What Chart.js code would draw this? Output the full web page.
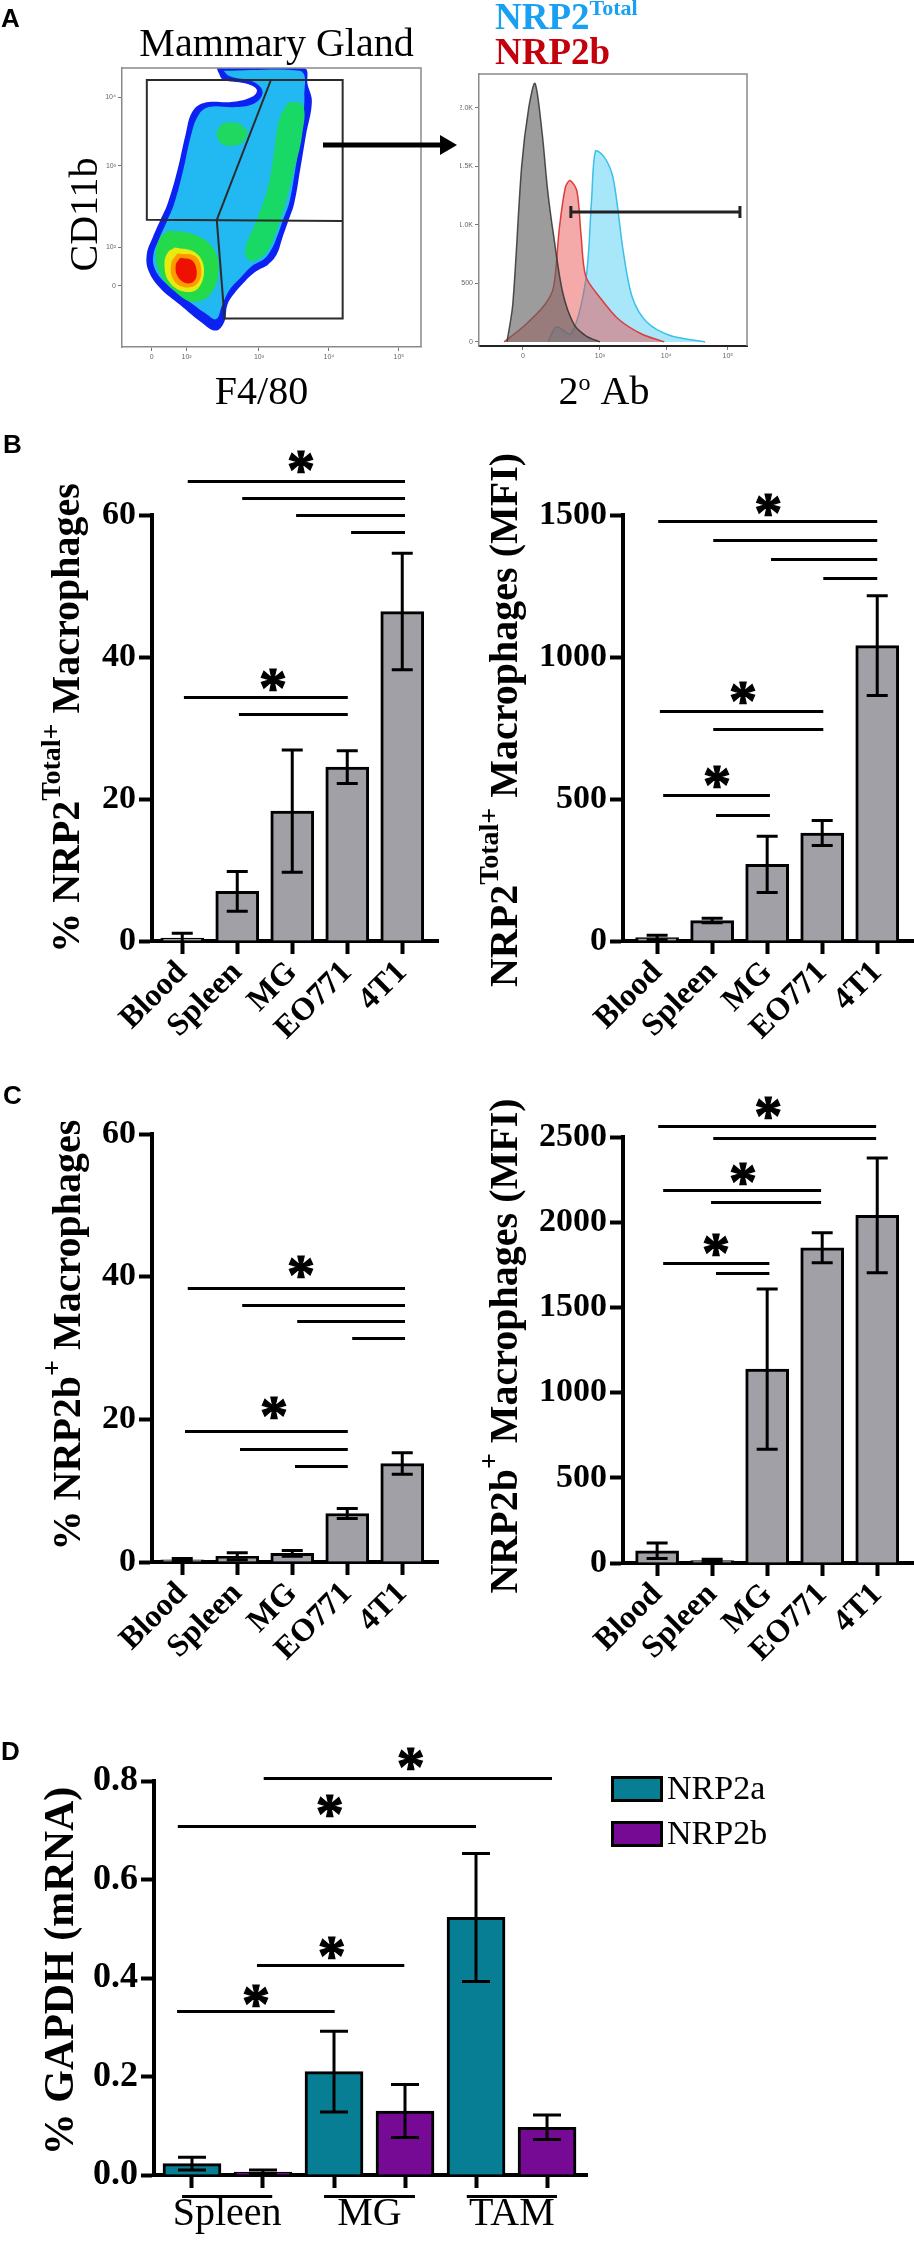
<!DOCTYPE html>
<html>
<head>
<meta charset="utf-8">
<title>NRP2 in macrophages</title>
<script src="https://cdn.jsdelivr.net/npm/chart.js@4.4.1/dist/chart.umd.min.js"></script>
<style>
  html, body { margin: 0; padding: 0; background: #fff; }
  #page { position: relative; width: 914px; height: 2241px; overflow: hidden; background: #fff; }
  #page canvas { position: absolute; }
  .tag { position: absolute; font: bold 26px "Liberation Sans", Arial, sans-serif; line-height: 26px; }
</style>
</head>
<body>
<div id="page">
  <canvas id="dens" width="460" height="420" style="left:0;top:0"></canvas>
  <canvas id="hist" width="454" height="420" style="left:460px;top:0"></canvas>
  <canvas id="pctTotal" width="455" height="665" style="left:0;top:420px"></canvas>
  <canvas id="mfiTotal" width="459" height="665" style="left:455px;top:420px"></canvas>
  <canvas id="pctB" width="455" height="600" style="left:0;top:1085px"></canvas>
  <canvas id="mfiB" width="459" height="600" style="left:455px;top:1085px"></canvas>
  <canvas id="qpcr" width="914" height="541" style="left:0;top:1700px"></canvas>
  <div class="tag" style="left:1px;top:5px">A</div>
  <div class="tag" style="left:3px;top:431px">B</div>
  <div class="tag" style="left:3px;top:1082px">C</div>
  <div class="tag" style="left:1px;top:1738px">D</div>
</div>
<script>
// ---------- data ----------
const tissues = ['Blood', 'Spleen', 'MG', 'EO771', '4T1'];
const tissuePos = [0, 1, 2, 3, 4];

// B: NRP2 total
const pctTotal = [0.4, 7.0, 18.3, 24.5, 46.4];
const pctTotalErr = [0.7, 2.8, 8.6, 2.3, 8.2];
const mfiTotal = [12, 72, 270, 380, 1040];
const mfiTotalErr = [8, 8, 99, 44, 176];

// C: NRP2b
const pctB = [0.3, 0.8, 1.2, 6.8, 13.8];
const pctBErr = [0.2, 0.5, 0.4, 0.7, 1.5];
const mfiB = [72, 14, 1138, 1850, 2040];
const mfiBErr = [45, 8, 470, 88, 337];

// D: qPCR
const groups = ['Spleen', 'MG', 'TAM'];
const nrp2a = [0.023, 0.21, 0.523];
const nrp2aErr = [0.013, 0.082, 0.13];
const nrp2b = [0.006, 0.13, 0.097];
const nrp2bErr = [0.004, 0.054, 0.025];
const nrp2aPos = [0, 2, 4];
const nrp2bPos = [1, 3, 5];
const groupSpans = [[-0.14, 1.13], [1.86, 3.14], [3.87, 5.14]];

// significance brackets [from, to, level] and stars [x, level]
const sigPctTotal = [[0.10, 4.05, 64.8], [1.09, 4.05, 62.4], [2.07, 4.05, 60.0], [3.07, 4.05, 57.6], [0.03, 3.01, 34.4], [1.03, 3.01, 32.0]];
const starsPctTotal = [[2.16, 67.5], [1.65, 36.8]];
const sigMfiTotal = [[0.02, 4.0, 1479], [1.02, 4.0, 1412], [2.07, 4.0, 1345], [3.02, 4.0, 1278], [0.05, 3.02, 810], [1.02, 3.02, 746], [0.11, 2.05, 514], [1.07, 2.05, 444]];
const starsMfiTotal = [[2.02, 1535], [1.56, 873], [1.09, 577]];
const sigPctB = [[0.10, 4.05, 38.4], [1.09, 4.05, 36.0], [2.09, 4.05, 33.8], [3.09, 4.05, 31.4], [0.05, 3.01, 18.4], [1.05, 3.01, 15.8], [2.05, 3.01, 13.5]];
const starsPctB = [[2.16, 41.4], [1.67, 21.6]];
const sigMfiB = [[0.02, 3.98, 2565], [1.02, 3.98, 2494], [0.11, 2.98, 2189], [0.98, 2.98, 2119], [0.11, 2.04, 1761], [1.07, 2.04, 1702]];
const starsMfiB = [[2.02, 2670], [1.56, 2283], [1.07, 1866]];
const sigQpcr = [[1.01, 5.07, 0.807], [-0.2, 4.0, 0.709], [0.915, 2.99, 0.426], [-0.21, 2.01, 0.333]];
const starsQpcr = [[3.08, 0.845], [1.94, 0.749], [1.97, 0.461], [0.90, 0.364]];

// A: density plot contours (F4/80, CD11b in display units 0-100)
const blueOuter = [[31.7, 100], [60.9, 100], [62.1, 94.0], [63.5, 87.9], [61.5, 75.8], [59.6, 63.6], [57.6, 51.5], [55.7, 45.4], [53.7, 39.3], [51.8, 33.3], [48.9, 29.6], [45.0, 27.2], [41.1, 23.5], [37.2, 18.7], [35.2, 15.0], [34.2, 9.0], [31.3, 5.9], [26.4, 9.0], [19.6, 15.0], [12.8, 21.1], [8.9, 27.2], [8.3, 33.3], [10.3, 39.3], [12.8, 45.4], [15.3, 51.5], [18.6, 63.6], [21.2, 75.8], [23.5, 84.3], [27.4, 87.5], [37.2, 87.9], [44.0, 90.0], [45.0, 92.4], [41.1, 94.5], [33.9, 95.8], [32.3, 98.3], [31.7, 100]];
const cyanInner = [[34, 99], [59.5, 99], [61, 90], [59.8, 76], [58, 64], [56, 52], [54, 46], [52, 40], [50, 35], [47.5, 31.5], [43.5, 29], [39.8, 25], [36, 20.5], [33.5, 15], [31.5, 10], [28, 12], [21, 17.5], [14.5, 23], [11, 28], [10.5, 33], [12.5, 39], [15, 45], [17.5, 51.5], [20.5, 63.5], [23, 75.5], [25.5, 83], [29, 86], [38, 86], [44.5, 87.5], [47, 91.5], [44, 95], [36, 97], [34, 99]];
const greenBand = [[55.7, 87.9], [60.5, 86.7], [60.2, 75.8], [57.6, 63.6], [54.7, 51.5], [51.8, 41.8], [47.9, 33.3], [43.0, 30.8], [41.1, 34.5], [45.0, 45.4], [48.9, 57.6], [50.8, 69.7], [52.7, 81.9], [55.7, 87.9]];
const greenUpper = [[31.5, 76.4], [33, 79.5], [36.2, 80.6], [40, 79.5], [42, 76.4], [40, 73], [36.2, 72.1], [33, 73], [31.5, 76.4]];
const greenLower = [[15.7, 41.8], [23.5, 40.5], [30.3, 35.7], [32.3, 27.2], [29.4, 18.7], [23.5, 16.2], [17.7, 19.9], [12.8, 26.0], [11.4, 33.3], [12.8, 39.3], [15.7, 41.8]];
const yellowCore = [[17.7, 35.7], [24.5, 33.9], [27.4, 28.4], [25.5, 21.1], [20.6, 19.9], [15.7, 23.5], [14.2, 29.6], [15.3, 33.9], [17.7, 35.7]];
const orangeCore = [[18.5, 33.5], [24.5, 32.5], [26.5, 27.5], [25, 22.5], [20.5, 21.5], [17, 24.5], [16.5, 30], [18.5, 33.5]];
const redCore = [[19.5, 32], [23.5, 31], [25, 27], [24, 23.5], [21, 23], [18.5, 25.5], [18, 29.5], [19.5, 32]];
const gateUpper = [[49.8, 95.7], [8.3, 95.7], [8.3, 45.6], [73.8, 45.2]];
const gateLower = [[49.8, 95.7], [73.8, 95.7], [73.8, 10.2], [34.3, 10.2], [31.7, 45.6], [49.8, 95.7]];
const densXTicks = [9.9, 21.6, 45.8, 69.2, 92.6];
const densXLabels = ['0', '10²', '10³', '10⁴', '10⁵'];
const densYTicks = [21.9, 35.8, 64.9, 89.6];
const densYLabels = ['0', '10²', '10³', '10⁴'];

// A: histogram [channel, count]
const histGrey = [[107, 0], [129, 320], [163, 1500], [190, 2000], [214, 2210], [241, 1790], [262, 1300], [285, 910], [320, 420], [363, 150], [410, 50], [462, 0]];
const histRed = [[96, 0], [174, 140], [252, 320], [285, 470], [307, 970], [330, 1320], [348, 1380], [374, 1290], [390, 910], [408, 560], [462, 380], [530, 200], [619, 70], [708, 0]];
const histBlue = [[264, 0], [296, 130], [352, 70], [408, 530], [430, 1210], [445, 1630], [475, 1590], [508, 1440], [526, 1210], [552, 760], [586, 380], [641, 170], [730, 55], [864, 0]];
const histGate = [351, 997, 1111];
const histXTicks = [168, 462, 715, 951];
const histXLabels = ['0', '10³', '10⁴', '10⁵'];
const histYTicks = [0, 500, 1000, 1500, 2000];
const histYLabels = ['0', '500', '1.0K', '1.5K', '2.0K'];

// ---------- helpers ----------
const SERIF = '"Liberation Serif", "Times New Roman", serif';
Chart.defaults.font.family = SERIF;
Chart.defaults.color = '#000';

// parts: [text, size, raise, bold, color]
function drawParts(ctx, parts, x, y, rotate, align) {
    const fonts = parts.map(p => (p[3] ? 'bold ' : '') + p[1] + 'px ' + SERIF);
    let total = 0;
    const widths = parts.map((p, i) => {
        ctx.font = fonts[i];
        const w = ctx.measureText(p[0]).width;
        total += w;
        return w;
    });
    ctx.save();
    ctx.translate(x, y);
    if (rotate) ctx.rotate(rotate);
    ctx.textAlign = 'left';
    ctx.textBaseline = 'alphabetic';
    let cx = align === 'left' ? 0 : -total / 2;
    parts.forEach((p, i) => {
        ctx.font = fonts[i];
        ctx.fillStyle = p[4] || '#000';
        ctx.fillText(p[0], cx, -p[2]);
        cx += widths[i];
    });
    ctx.restore();
}

const pts = arr => arr.map(([x, y]) => ({ x, y }));

// error bars, brackets, stars, titles, legend for bar panels
const deco = {
    id: 'deco',
    afterDatasetsDraw(chart, args, o) {
        const ctx = chart.ctx;
        const x = chart.scales.x, y = chart.scales.y;
        const area = chart.chartArea;
        ctx.save();
        ctx.strokeStyle = '#000';
        ctx.fillStyle = '#000';
        ctx.lineWidth = 3;

        (o.errors || []).forEach((errs, di) => {
            const meta = chart.getDatasetMeta(di);
            const ds = chart.data.datasets[di];
            errs.forEach((e, i) => {
                const px = meta.data[i].x;
                const v = ds.data[i].y;
                const top = y.getPixelForValue(v + e);
                const bot = Math.min(y.getPixelForValue(v - e), area.bottom);
                ctx.beginPath();
                ctx.moveTo(px, top);
                ctx.lineTo(px, bot);
                ctx.moveTo(px - o.cap / 2, top);
                ctx.lineTo(px + o.cap / 2, top);
                if (v - e > 0) {
                    ctx.moveTo(px - o.cap / 2, bot);
                    ctx.lineTo(px + o.cap / 2, bot);
                }
                ctx.stroke();
            });
        });

        (o.sig || []).forEach(([a, b, v]) => {
            const py = Math.round(y.getPixelForValue(v)) + 0.5;
            ctx.beginPath();
            ctx.moveTo(x.getPixelForValue(a), py);
            ctx.lineTo(x.getPixelForValue(b), py);
            ctx.stroke();
        });

        ctx.font = 'bold 56px ' + SERIF;
        const m = ctx.measureText('*');
        const mid = (m.actualBoundingBoxAscent - m.actualBoundingBoxDescent) / 2;
        ctx.textAlign = 'center';
        ctx.textBaseline = 'alphabetic';
        ctx.lineWidth = 1.2;
        (o.stars || []).forEach(([a, v]) => {
            const sx = x.getPixelForValue(a), sy = y.getPixelForValue(v) + mid;
            ctx.fillText('*', sx, sy);
            ctx.strokeText('*', sx, sy);
        });
        ctx.lineWidth = 3;

        if (o.title) drawParts(ctx, o.title.parts, o.title.x, o.title.cy, -Math.PI / 2);

        if (o.groups) {
            const g = o.groups;
            const ly = Math.round(area.bottom + g.lineOff) + 0.5;
            groupSpans.forEach(([a, b], i) => {
                ctx.beginPath();
                ctx.moveTo(x.getPixelForValue(a), ly);
                ctx.lineTo(x.getPixelForValue(b), ly);
                ctx.stroke();
                ctx.font = g.size + 'px ' + SERIF;
                ctx.textAlign = 'center';
                ctx.fillText(g.labels[i], x.getPixelForValue((a + b) / 2), area.bottom + g.textOff);
            });
        }

        if (o.legend) {
            const L = o.legend;
            chart.data.datasets.forEach((ds, i) => {
                const top = L.y + i * L.gap;
                ctx.fillStyle = ds.backgroundColor;
                ctx.fillRect(L.x, top, L.w, L.h);
                ctx.strokeRect(L.x + 1.5, top + 1.5, L.w - 3, L.h - 3);
                ctx.fillStyle = '#000';
                ctx.font = L.size + 'px ' + SERIF;
                ctx.textAlign = 'left';
                ctx.textBaseline = 'middle';
                ctx.fillText(ds.label, L.x + L.w + 4, top + L.h / 2 + 1);
                ctx.textBaseline = 'alphabetic';
            });
        }
        ctx.restore();
    }
};

function barChart(id, p) {
    return new Chart(document.getElementById(id), {
        type: 'bar',
        data: {
            datasets: p.series.map(s => ({
                label: s.label,
                data: s.values.map((v, i) => ({ x: s.pos[i], y: v })),
                backgroundColor: s.color,
                borderColor: '#000',
                borderWidth: 3,
                barThickness: p.barWidth,
                grouped: false
            }))
        },
        options: {
            responsive: false,
            animation: false,
            events: [],
            layout: { padding: p.padding },
            plugins: {
                legend: { display: false },
                tooltip: { enabled: false },
                deco: p.deco
            },
            scales: {
                x: {
                    type: 'linear',
                    min: p.xRange[0],
                    max: p.xRange[1],
                    offset: false,
                    afterBuildTicks: s => { s.ticks = p.tickPos.map(v => ({ value: v })); },
                    afterFit: s => { s.height = p.xHeight; s.paddingLeft = 0; s.paddingRight = 0; },
                    border: { display: true, color: '#000', width: 4 },
                    grid: { drawOnChartArea: false, drawTicks: true, tickLength: 13, tickWidth: 4, tickColor: '#000', offset: false },
                    ticks: {
                        autoSkip: false,
                        minRotation: p.rot,
                        maxRotation: p.rot,
                        padding: 0,
                        font: { family: SERIF, size: 32, weight: 'bold' },
                        callback: (v, i) => p.tickLabels[i]
                    }
                },
                y: {
                    min: 0,
                    max: p.yMax,
                    afterBuildTicks: s => { s.ticks = p.yTicks.map(v => ({ value: v })); },
                    afterFit: s => { s.width = p.yWidth; s.paddingTop = 0; s.paddingBottom = 0; },
                    border: { display: true, color: '#000', width: 4 },
                    grid: { drawOnChartArea: false, drawTicks: true, tickLength: 13, tickWidth: 4, tickColor: '#000' },
                    ticks: {
                        padding: 3,
                        font: { family: SERIF, size: p.yFont || 34, weight: 'bold' },
                        callback: p.yFmt || (v => v)
                    }
                }
            }
        },
        plugins: [deco]
    });
}

const GREY = '#a0a0a6';

// ---------- panel B ----------
barChart('pctTotal', {
    series: [{ label: '% NRP2 Total', values: pctTotal, pos: tissuePos, color: GREY }],
    barWidth: 43, xRange: [-0.55, 4.65], tickPos: tissuePos, tickLabels: tissues, rot: 45,
    xHeight: 144, yMax: 60, yTicks: [0, 20, 40, 60], yWidth: 152,
    padding: { left: 0, right: 17, top: 95, bottom: 0 },
    deco: {
        errors: [pctTotalErr], cap: 21, sig: sigPctTotal, stars: starsPctTotal,
        title: { x: 79, cy: 298, parts: [['% NRP2', 40, 0, true], ['Total+', 28, 19, true], [' Macrophages', 40, 0, true]] }
    }
});

barChart('mfiTotal', {
    series: [{ label: 'NRP2 Total MFI', values: mfiTotal, pos: tissuePos, color: GREY }],
    barWidth: 43, xRange: [-0.62, 4.65], tickPos: tissuePos, tickLabels: tissues, rot: 45,
    xHeight: 144, yMax: 1500, yTicks: [0, 500, 1000, 1500], yWidth: 168,
    padding: { left: 0, right: 1, top: 95, bottom: 0 },
    deco: {
        errors: [mfiTotalErr], cap: 21, sig: sigMfiTotal, stars: starsMfiTotal,
        title: { x: 62, cy: 300, parts: [['NRP2', 40, 0, true], ['Total+', 28, 19, true], [' Macrophages (MFI)', 40, 0, true]] }
    }
});

// ---------- panel C ----------
barChart('pctB', {
    series: [{ label: '% NRP2b', values: pctB, pos: tissuePos, color: GREY }],
    barWidth: 43, xRange: [-0.55, 4.65], tickPos: tissuePos, tickLabels: tissues, rot: 45,
    xHeight: 123, yMax: 60, yTicks: [0, 20, 40, 60], yWidth: 152,
    padding: { left: 0, right: 17, top: 49, bottom: 0 },
    deco: {
        errors: [pctBErr], cap: 21, sig: sigPctB, stars: starsPctB,
        title: { x: 80, cy: 250, parts: [['% NRP2b', 40, 0, true], ['+', 28, 19, true], [' Macrophages', 40, 0, true]] }
    }
});

barChart('mfiB', {
    series: [{ label: 'NRP2b MFI', values: mfiB, pos: tissuePos, color: GREY }],
    barWidth: 43, xRange: [-0.62, 4.65], tickPos: tissuePos, tickLabels: tissues, rot: 45,
    xHeight: 122, yMax: 2500, yTicks: [0, 500, 1000, 1500, 2000, 2500], yWidth: 168,
    padding: { left: 0, right: 1, top: 52, bottom: 0 },
    deco: {
        errors: [mfiBErr], cap: 21, sig: sigMfiB, stars: starsMfiB,
        title: { x: 62, cy: 261, parts: [['NRP2b', 40, 0, true], ['+', 28, 19, true], [' Macrophages (MFI)', 40, 0, true]] }
    }
});

// ---------- panel D ----------
barChart('qpcr', {
    series: [
        { label: 'NRP2a', values: nrp2a, pos: nrp2aPos, color: '#087e95' },
        { label: 'NRP2b', values: nrp2b, pos: nrp2bPos, color: '#760a94' }
    ],
    barWidth: 58, xRange: [-0.535, 5.563], tickPos: [0, 1, 2, 3, 4, 5], tickLabels: ['', '', '', '', '', ''], rot: 0,
    xHeight: 66, yMax: 0.8, yTicks: [0, 0.2, 0.4, 0.6, 0.8], yWidth: 154, yFont: 36, yFmt: v => v.toFixed(1),
    padding: { left: 0, right: 327, top: 81, bottom: 0 },
    deco: {
        errors: [nrp2aErr, nrp2bErr], cap: 28, sig: sigQpcr, stars: starsQpcr,
        title: { x: 73, cy: 271, parts: [['% GAPDH (mRNA)', 42, 0, true]] },
        groups: { labels: groups, lineOff: 21, textOff: 50, size: 40 },
        legend: { x: 611, y: 76, gap: 45, w: 52, h: 26, size: 34 }
    }
});

// ---------- panel A: density plot ----------
const densLayers = [
    { pts: blueOuter, color: '#0c22f2' },
    { pts: cyanInner, color: '#22b8f2' },
    { pts: greenBand, color: '#18d866' },
    { pts: greenUpper, color: '#20d860' },
    { pts: greenLower, color: '#22da4a' },
    { pts: yellowCore, color: '#e6ec10' },
    { pts: orangeCore, color: '#ff9a00' },
    { pts: redCore, color: '#ee1000' }
];

const densDeco = {
    id: 'densDeco',
    afterDraw(chart) {
        const ctx = chart.ctx, a = chart.chartArea;
        ctx.save();
        ctx.strokeStyle = '#8a8a8a';
        ctx.lineWidth = 1.5;
        ctx.beginPath();
        ctx.moveTo(a.left, a.top);
        ctx.lineTo(a.right, a.top);
        ctx.lineTo(a.right, a.bottom);
        ctx.stroke();
        drawParts(ctx, [['Mammary Gland', 40, 0]], (a.left + a.right) / 2 + 5, a.top - 12);
        drawParts(ctx, [['F4/80', 40, 0]], (a.left + a.right) / 2 - 10, a.bottom + 57);
        drawParts(ctx, [['CD11b', 40, 0]], a.left - 25, (a.top + a.bottom) / 2 + 7, -Math.PI / 2);
        // arrow towards the histogram
        const ay = a.top + 77, x0 = a.right - 98, x1 = a.right + 36;
        ctx.strokeStyle = '#000';
        ctx.fillStyle = '#000';
        ctx.lineWidth = 5;
        ctx.beginPath();
        ctx.moveTo(x0, ay);
        ctx.lineTo(x1 - 12, ay);
        ctx.stroke();
        ctx.beginPath();
        ctx.moveTo(x1, ay);
        ctx.lineTo(x1 - 17, ay - 10);
        ctx.lineTo(x1 - 17, ay + 10);
        ctx.closePath();
        ctx.fill();
        ctx.restore();
    }
};

const tinyAxis = (ticks, labels, extra) => Object.assign({
    type: 'linear',
    afterBuildTicks: s => { s.ticks = ticks.map(v => ({ value: v })); },
    border: { display: true, color: '#8a8a8a', width: 1.5 },
    grid: { drawOnChartArea: false, drawTicks: true, tickLength: 4, tickColor: '#777', tickWidth: 1 },
    ticks: { padding: 2, color: '#666', font: { family: '"Liberation Sans", Arial, sans-serif', size: 7 }, callback: (v, i) => labels[i], autoSkip: false, maxRotation: 0 }
}, extra);

new Chart(document.getElementById('dens'), {
    type: 'line',
    data: {
        datasets: densLayers.map((L, k) => ({
            data: pts(L.pts),
            backgroundColor: L.color,
            borderColor: L.color,
            borderWidth: 0,
            fill: 'shape',
            tension: 0.4,
            pointRadius: 0,
            order: 20 - k
        })).concat([gateUpper, gateLower].map(g => ({
            data: pts(g),
            borderColor: '#2b2b2b',
            borderWidth: 2,
            fill: false,
            tension: 0,
            pointRadius: 0,
            order: 0
        })))
    },
    options: {
        responsive: false,
        animation: false,
        events: [],
        layout: { padding: { left: 0, right: 39, top: 68, bottom: 0 } },
        plugins: { legend: { display: false }, tooltip: { enabled: false } },
        scales: {
            x: tinyAxis(densXTicks, densXLabels, { min: 0, max: 100, afterFit: s => { s.height = 73; s.paddingLeft = 0; s.paddingRight = 0; } }),
            y: tinyAxis(densYTicks, densYLabels, { min: 0, max: 100, afterFit: s => { s.width = 122; s.paddingTop = 0; s.paddingBottom = 0; } })
        }
    },
    plugins: [densDeco]
});

// ---------- panel A: histogram ----------
const histDeco = {
    id: 'histDeco',
    afterDraw(chart) {
        const ctx = chart.ctx, a = chart.chartArea;
        const x = chart.scales.x, y = chart.scales.y;
        ctx.save();
        ctx.strokeStyle = '#8a8a8a';
        ctx.lineWidth = 1.5;
        ctx.beginPath();
        ctx.moveTo(a.left, a.top);
        ctx.lineTo(a.right, a.top);
        ctx.lineTo(a.right, a.bottom);
        ctx.stroke();
        // positive gate
        const gy = y.getPixelForValue(histGate[2]);
        const g0 = x.getPixelForValue(histGate[0]), g1 = x.getPixelForValue(histGate[1]);
        ctx.strokeStyle = '#222';
        ctx.lineWidth = 3;
        ctx.beginPath();
        ctx.moveTo(g0, gy);
        ctx.lineTo(g1, gy);
        ctx.moveTo(g0, gy - 6);
        ctx.lineTo(g0, gy + 6);
        ctx.moveTo(g1, gy - 6);
        ctx.lineTo(g1, gy + 6);
        ctx.stroke();
        drawParts(ctx, [['NRP2', 37, 0, true, '#1aa0f2'], ['Total', 22, 14, true, '#1aa0f2']], a.left + 16, 29, 0, 'left');
        drawParts(ctx, [['NRP2b', 37, 0, true, '#c4000c']], a.left + 16, 64, 0, 'left');
        drawParts(ctx, [['2', 40, 0], ['o', 24, 14], [' Ab', 40, 0]], (a.left + a.right) / 2 - 9, a.bottom + 58);
        ctx.restore();
    }
};

const histSeries = [
    { pts: histGrey, fill: 'rgba(95,95,95,0.62)', line: 'rgba(50,50,50,0.85)' },
    { pts: histRed, fill: 'rgba(236,86,86,0.5)', line: '#de3c3c' },
    { pts: histBlue, fill: 'rgba(96,210,245,0.55)', line: '#3ac0ea' }
];

new Chart(document.getElementById('hist'), {
    type: 'line',
    data: {
        datasets: histSeries.map(s => ({
            data: pts(s.pts),
            backgroundColor: s.fill,
            borderColor: s.line,
            borderWidth: 1.5,
            fill: 'origin',
            tension: 0.3,
            pointRadius: 0
        }))
    },
    options: {
        responsive: false,
        animation: false,
        events: [],
        layout: { padding: { left: 0, right: 167, top: 74, bottom: 0 } },
        plugins: { legend: { display: false }, tooltip: { enabled: false } },
        scales: {
            x: tinyAxis(histXTicks, histXLabels, {
                min: 0, max: 1024,
                border: { display: true, color: '#222', width: 2 },
                afterFit: s => { s.height = 74; s.paddingLeft = 0; s.paddingRight = 0; }
            }),
            y: tinyAxis(histYTicks, histYLabels, {
                min: -35, max: 2290,
                afterFit: s => { s.width = 19; s.paddingTop = 0; s.paddingBottom = 0; }
            })
        }
    },
    plugins: [histDeco]
});
</script>
</body>
</html>
